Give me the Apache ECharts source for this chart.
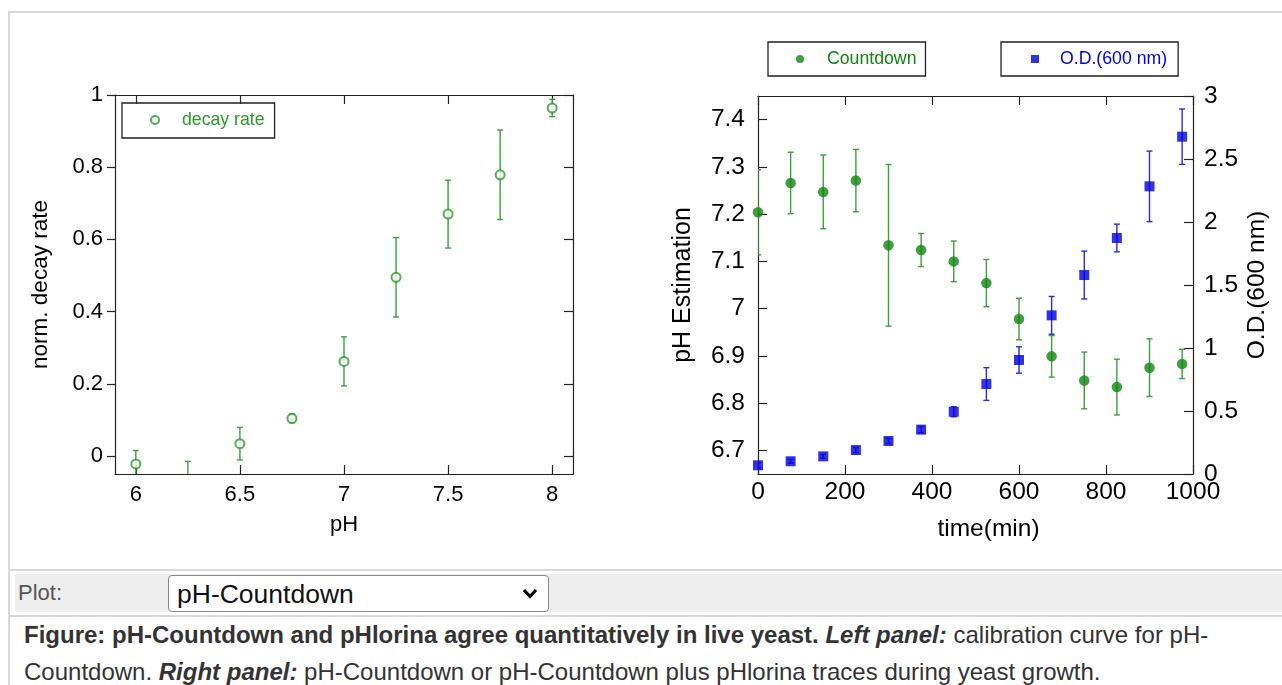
<!DOCTYPE html>
<html>
<head>
<meta charset="utf-8">
<script src="https://cdn.jsdelivr.net/npm/echarts@6/dist/echarts.min.js"></script>
<style>
  html, body { margin: 0; padding: 0; background: #fff; width: 1282px; height: 685px; overflow: hidden;
    font-family: 'Liberation Sans', Arial, sans-serif; }
  #frame { position: absolute; left: 8px; top: 11px; width: 1290px; height: 700px;
    border-left: 2px solid #d9d9d9; border-top: 2px solid #d9d9d9; }
  #chart { position: absolute; left: 0; top: 0; width: 1282px; height: 568px; }
  .rule { position: absolute; left: 8px; width: 1290px; height: 2px; background: #d9d9d9; }
  #plotRow { position: absolute; left: 15px; top: 574px; width: 1280px; height: 38px; background: #eeeeee; }
  #plotLabel { position: absolute; left: 3px; top: 0; line-height: 38px; font-size: 22px; color: #555; }
  #plotSelect { position: absolute; left: 168px; top: 575px; width: 381px; height: 37px;
    -webkit-appearance: none; appearance: none;
    font-family: 'Liberation Sans', Arial, sans-serif; font-size: 26.5px; color: #111;
    border: 1px solid #8a8a8a; border-radius: 4px; padding: 0 0 0 8px;
    background: #fff url("data:image/svg+xml;utf8,<svg xmlns='http://www.w3.org/2000/svg' width='16' height='11'><path d='M2 2 L8 8.5 L14 2' fill='none' stroke='black' stroke-width='3.2'/></svg>") no-repeat right 10px center; }
  #caption { position: absolute; left: 24px; top: 616px; font-size: 24px; line-height: 37px; color: #333; }
</style>
</head>
<body>
<div id="frame"></div>
<div id="chart"></div>
<div class="rule" style="top:569px"></div>
<div id="plotRow"><span id="plotLabel">Plot:</span></div>
<select id="plotSelect"><option>pH-Countdown</option></select>
<div class="rule" style="top:615px"></div>
<div id="caption"><b>Figure: pH-Countdown and pHlorina agree quantitatively in live yeast.</b> <b><i>Left panel:</i></b> calibration curve for pH-<br>Countdown. <b><i>Right panel:</i></b> pH-Countdown or pH-Countdown plus pHlorina traces during yeast growth.</div>
<script>
// Calibration: normalised decay rate vs pH (mean and error half-width)
const phValues   = [6, 6.25, 6.5, 6.75, 7, 7.25, 7.5, 7.75, 8];
const decayRate  = [-0.022, -0.07, 0.034, 0.104, 0.262, 0.495, 0.670, 0.779, 0.964];
const decayErr   = [0.037, 0.055, 0.045, 0.012, 0.068, 0.11, 0.094, 0.124, 0.024];

// Growth time course
const timeMin      = [0, 75, 150, 225, 300, 375, 450, 525, 600, 675, 750, 825, 900, 975];
const countdownPH  = [7.204, 7.266, 7.247, 7.271, 7.134, 7.124, 7.100, 7.054, 6.978, 6.899, 6.848, 6.834, 6.875, 6.883];
const countdownErr = [0.09, 0.065, 0.078, 0.066, 0.171, 0.035, 0.043, 0.05, 0.044, 0.044, 0.06, 0.059, 0.061, 0.031];
const odValues     = [0.069, 0.101, 0.140, 0.190, 0.262, 0.352, 0.494, 0.714, 0.905, 1.259, 1.579, 1.873, 2.283, 2.677];
const odErr        = [0.02, 0.015, 0.015, 0.02, 0.02, 0.025, 0.04, 0.13, 0.105, 0.15, 0.19, 0.11, 0.28, 0.22];

// Tick positions
const phTicks   = [6, 6.5, 7, 7.5, 8];
const rateTicks = [0, 0.2, 0.4, 0.6, 0.8, 1];
const timeTicks = [0, 200, 400, 600, 800, 1000];
const estTicks  = [6.7, 6.8, 6.9, 7, 7.1, 7.2, 7.3, 7.4];
const odTicks   = [0, 0.5, 1, 1.5, 2, 2.5, 3];

const FONT = 'Liberation Sans, Arial, sans-serif';
const AXIS_COLOR = '#222';
const GREEN_OPEN = '#2a9a2a';
const GREEN_ERR = '#3d9f3d';
const GREEN_DOT = '#0e870e';
const BLUE = '#0000e0';
const BLUE_ERR = '#2a2ae6';

const fmt = v => String(+v.toFixed(2));

function errorBar(params, api) {
  const x = api.value(0), y = api.value(1), e = api.value(2);
  const hi = api.coord([x, y + e]);
  const lo = api.coord([x, y - e]);
  const cap = 3;
  const style = { stroke: api.visual('color'), lineWidth: 1.4 };
  return {
    type: 'group',
    children: [
      { type: 'line', shape: { x1: hi[0], y1: hi[1], x2: lo[0], y2: lo[1] }, style },
      { type: 'line', shape: { x1: hi[0] - cap, y1: hi[1], x2: hi[0] + cap, y2: hi[1] }, style },
      { type: 'line', shape: { x1: lo[0] - cap, y1: lo[1], x2: lo[0] + cap, y2: lo[1] }, style }
    ]
  };
}

function frameAxis(extra) {
  return Object.assign({
    type: 'value',
    axisLine: { show: true, onZero: false, lineStyle: { color: AXIS_COLOR, width: 1.2 } },
    axisTick: { show: true, inside: true, length: 9, lineStyle: { color: AXIS_COLOR, width: 1.2 } },
    axisLabel: { show: false },
    splitLine: { show: false }
  }, extra);
}

function ticks(values, inside, len) {
  return { show: true, inside: inside, length: len || 9, customValues: values,
           lineStyle: { color: AXIS_COLOR, width: 1.2 } };
}

function labelStyle(size, margin, values) {
  return { show: true, color: '#000', fontFamily: FONT, fontSize: size, margin: margin,
           customValues: values, formatter: fmt };
}

// legend entry: marker, a fixed spacer, then the series name
function legendBox(left, top, name, icon, color, pad, spacer) {
  return {
    left: left, top: top, orient: 'horizontal', selectedMode: false,
    data: [{ name: name, icon: icon }],
    itemWidth: 8, itemHeight: 8, padding: pad,
    borderColor: AXIS_COLOR, borderWidth: 1.3,
    formatter: n => '{s|}' + n,
    textStyle: { color: color, fontSize: 17.7, fontFamily: FONT, lineHeight: 18,
                 rich: { s: { width: spacer } } }
  };
}

const chart = echarts.init(document.getElementById('chart'), null, { renderer: 'canvas' });

chart.setOption({
  animation: false,
  textStyle: { fontFamily: FONT },
  grid: [
    { left: 115, top: 95, width: 458, height: 379 },
    { left: 758, top: 96, width: 435, height: 378 }
  ],
  xAxis: [
    frameAxis({ gridIndex: 0, position: 'bottom', min: 5.9, max: 8.1,
      axisTick: ticks(phTicks, true),
      axisLabel: labelStyle(22, 10, phTicks),
      name: 'pH', nameLocation: 'middle', nameGap: 40,
      nameTextStyle: { color: '#000', fontSize: 22, fontFamily: FONT } }),
    frameAxis({ gridIndex: 0, position: 'top', min: 5.9, max: 8.1, axisTick: ticks(phTicks, true) }),
    frameAxis({ gridIndex: 1, position: 'bottom', min: 0, max: 1000,
      axisTick: ticks(timeTicks, true),
      axisLabel: labelStyle(24.5, 6, timeTicks),
      name: 'time(min)', nameLocation: 'middle', nameGap: 43,
      nameTextStyle: { color: '#000', fontSize: 24.5, fontFamily: FONT, padding: [0, 0, 0, 26] } }),
    frameAxis({ gridIndex: 1, position: 'top', min: 0, max: 1000, axisTick: ticks(timeTicks, true) })
  ],
  yAxis: [
    frameAxis({ gridIndex: 0, position: 'left', min: -0.05, max: 1,
      axisTick: ticks(rateTicks, false, 8),
      axisLabel: labelStyle(22, 12, rateTicks),
      name: 'norm. decay rate', nameLocation: 'middle', nameGap: 63, nameRotate: 90,
      nameTextStyle: { color: '#000', fontSize: 22.5, fontFamily: FONT } }),
    frameAxis({ gridIndex: 0, position: 'right', min: -0.05, max: 1, axisTick: ticks(rateTicks, true) }),
    frameAxis({ gridIndex: 1, position: 'left', min: 6.65, max: 7.45,
      axisTick: ticks(estTicks, true),
      axisLabel: labelStyle(24.5, 13, estTicks),
      name: 'pH Estimation', nameLocation: 'middle', nameGap: 62, nameRotate: 90,
      nameTextStyle: { color: '#000', fontSize: 25, fontFamily: FONT } }),
    frameAxis({ gridIndex: 1, position: 'right', min: 0, max: 3,
      axisTick: ticks(odTicks, true),
      axisLabel: labelStyle(24.5, 11, odTicks),
      name: 'O.D.(600 nm)', nameLocation: 'middle', nameGap: 52, nameRotate: 90,
      nameTextStyle: { color: '#000', fontSize: 24.5, fontFamily: FONT } })
  ],
  legend: [
    legendBox(122, 103, 'decay rate', 'emptyCircle', GREEN_OPEN, [8, 10, 9, 28], 18),
    legendBox(768, 42, 'Countdown', 'circle', GREEN_DOT, [8, 9, 8, 28], 18),
    legendBox(1001, 42, 'O.D.(600 nm)', 'path://M0,0H10V10H0Z', BLUE, [8, 11, 8, 30], 16)
  ],
  series: [
    { name: 'decay rate error', type: 'custom', xAxisIndex: 0, yAxisIndex: 0, clip: true, silent: true,
      itemStyle: { color: GREEN_ERR }, renderItem: errorBar, encode: { x: 0, y: 1 },
      data: phValues.map((x, i) => [x, decayRate[i], decayErr[i]]) },
    { name: 'decay rate', type: 'scatter', xAxisIndex: 0, yAxisIndex: 0, clip: true,
      symbol: 'emptyCircle', symbolSize: 9,
      itemStyle: { color: GREEN_OPEN, borderWidth: 1.5 },
      data: phValues.map((x, i) => [x, decayRate[i]]) },
    { name: 'Countdown error', type: 'custom', xAxisIndex: 2, yAxisIndex: 2, clip: true, silent: true,
      itemStyle: { color: GREEN_ERR }, renderItem: errorBar, encode: { x: 0, y: 1 },
      data: timeMin.map((t, i) => [t, countdownPH[i], countdownErr[i]]) },
    { name: 'Countdown', type: 'scatter', xAxisIndex: 2, yAxisIndex: 2,
      symbol: 'circle', symbolSize: 10.5, itemStyle: { color: GREEN_DOT },
      data: timeMin.map((t, i) => [t, countdownPH[i]]) },
    { name: 'O.D. error', type: 'custom', xAxisIndex: 2, yAxisIndex: 3, clip: true, silent: true,
      itemStyle: { color: BLUE_ERR }, renderItem: errorBar, encode: { x: 0, y: 1 },
      data: timeMin.map((t, i) => [t, odValues[i], odErr[i]]) },
    { name: 'O.D.(600 nm)', type: 'scatter', xAxisIndex: 2, yAxisIndex: 3,
      symbol: 'rect', symbolSize: 10, itemStyle: { color: BLUE },
      data: timeMin.map((t, i) => [t, odValues[i]]) }
  ]
});
</script>
</body>
</html>
